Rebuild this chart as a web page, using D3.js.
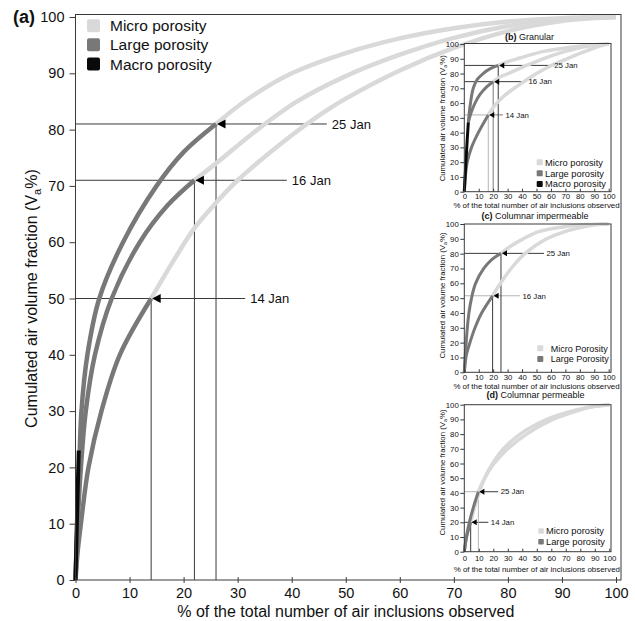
<!DOCTYPE html>
<html>
<head>
<meta charset="utf-8">
<script src="https://cdn.jsdelivr.net/npm/d3@7"></script>
<style>
  html, body { margin: 0; padding: 0; background: #fff; }
  svg { display: block; }
  text { font-family: "Liberation Sans", Arial, Helvetica, sans-serif; fill: #111; }
</style>
</head>
<body>
<svg id="fig" width="635" height="621"></svg>
<script>
// ---- shared tick values and legend entries ----
const tickValues = [0, 10, 20, 30, 40, 50, 60, 70, 80, 90, 100];
const legendAll = ["Micro porosity", "Large porosity", "Macro porosity"];
const legendTwo = ["Micro porosity", "Large porosity"];
const legendTwoCaps = ["Micro Porosity", "Large Porosity"];

// ---- (a) all ice: [% of inclusions, cumulated Va %] ----
const aMacro   = [[0, 0], [0.3, 12], [0.6, 23]];
const aLarge14 = [[0, 0], [0.4, 5], [1, 10], [2.4, 20], [4.8, 30], [8.2, 40], [14, 50]];
const aLarge16 = [[0, 0], [0.5, 12], [1.0, 20], [1.9, 30], [3.6, 40], [6.7, 50], [11.9, 60], [17, 66.5], [22, 71]];
const aLarge25 = [[0, 0], [0.4, 12], [0.7, 20], [1.1, 30], [2.2, 40], [4.4, 50], [8.8, 60], [15, 70], [20, 76], [26, 81]];
const aMicro14 = [[14, 50], [18, 56.5], [22, 62.5], [26, 67], [30, 71], [40, 79], [45, 82.5], [50, 85.5], [60, 90.5], [70, 94.5], [80, 97.5], [90, 99.3], [100, 100]];
const aMicro16 = [[22, 71], [26, 74], [33, 79.5], [41, 85], [50, 89.5], [60, 93.3], [70, 96.3], [80, 98.4], [90, 99.6], [100, 100]];
const aMicro25 = [[26, 81], [31.7, 85.3], [40, 90], [50, 93.6], [60, 96.2], [70, 98], [80, 99.2], [90, 99.8], [100, 100]];
const aDates = ["14 Jan", "16 Jan", "25 Jan"];
const aMarkX = [14, 22, 26];
const aMarkY = [50, 71, 81];

// ---- (b) granular ----
const bMacro   = [[0, 0], [1, 18], [2, 35], [2.8, 47]];
const bLarge14 = [[0, 0], [0.7, 10], [2, 20], [5, 30], [9.7, 40], [16.6, 52]];
const bLarge16 = [[2.8, 47], [4.5, 53], [7.4, 60], [11, 66], [15.5, 71], [20, 74.5]];
const bLarge25 = [[2.8, 47], [4, 58], [6.2, 70], [9, 76], [13, 80], [18, 83.3], [23.5, 85.5]];
const bMicro14 = [[16.6, 52], [20, 57], [24, 61.5], [29, 66], [36, 71], [50, 80], [60, 85.3], [71, 90], [85, 95.5], [95, 99], [100, 100]];
const bMicro16 = [[20, 74.5], [25, 77.8], [31.6, 80.5], [42, 85], [54.5, 90], [70, 95], [85, 98.5], [100, 100]];
const bMicro25 = [[23.5, 85.5], [30, 88], [38.5, 90.5], [55, 95], [75, 98], [90, 99.5], [100, 100]];
const bDates = ["14 Jan", "16 Jan", "25 Jan"];
const bMarkX = [16.6, 20, 23.5];
const bMarkY = [52, 74.5, 85.5];

// ---- (c) columnar impermeable ----
const cLarge16 = [[0, 0], [0.6, 6], [1.5, 12], [3.9, 20], [7.4, 30], [12, 40], [19.6, 51.6]];
const cLarge25 = [[0, 0], [0.6, 10], [1.3, 20], [2.1, 30], [3.2, 40], [5, 50], [7.8, 60], [13.5, 70], [19, 76], [25.4, 80.2]];
const cMicro16 = [[19.6, 51.6], [24.7, 59.5], [31.6, 69], [40.8, 79], [57, 90], [70, 95], [82, 98], [92, 99.6], [100, 100]];
const cMicro25 = [[25.4, 80.2], [32, 85], [40.8, 90], [52, 95], [68, 98], [85, 99.6], [100, 100]];
const cDates = ["16 Jan", "25 Jan"];
const cMarkX = [19.6, 25.4];
const cMarkY = [51.6, 80.2];

// ---- (d) columnar permeable ----
const dLarge14 = [[0, 0], [1.2, 8], [2.6, 14], [4.4, 20]];
const dLarge25 = [[0, 0], [1.4, 10], [3.5, 20], [6.2, 30], [9.7, 40.8]];
const dMicro14 = [[4.4, 20], [7, 30], [10.2, 40], [14, 50], [19.5, 60], [27, 70], [38.5, 80], [57, 90], [72, 95], [86, 98.3], [100, 100]];
const dMicro25 = [[9.7, 40.8], [13, 48], [17, 55], [21, 60.5], [30, 70], [43, 80], [61, 90], [75, 95], [88, 98.5], [100, 100]];
const dDates = ["14 Jan", "25 Jan"];
const dMarkX = [4.4, 9.7];
const dMarkY = [20, 40.8];

// ---- colours ----
const MICRO = "#d9d9d9", LARGE = "#787878", MACRO = "#0a0a0a";
const DARK = "#3a3a3a", MID = "#7a7a7a", LIGHT = "#b4b4b4";

const svg = d3.select("#fig");

function drawPanel(p) {
  const g = svg.append("g");
  const x = d3.scaleLinear().domain([0, 100]).range([p.x0, p.x1]);
  const y = d3.scaleLinear().domain([0, 100]).range([p.y0, p.y1]);
  const [fl, ft, fr, fb] = p.frame;

  if (p.fill) {
    g.append("rect").attr("x", fl).attr("y", ft).attr("width", fr - fl).attr("height", fb - ft)
      .attr("fill", "#fff");
  }

  // guide lines: horizontal from the axis, vertical drop, and the arrow lead to the date
  p.dates.forEach((d, i) => {
    const mx = p.markX[i], my = p.markY[i], col = p.lineColors[i];
    g.append("line").attr("x1", x(0)).attr("x2", x(mx)).attr("y1", y(my)).attr("y2", y(my))
      .attr("stroke", col[0]).attr("stroke-width", p.guideW);
    g.append("line").attr("x1", x(mx)).attr("x2", x(mx)).attr("y1", y(0)).attr("y2", y(my))
      .attr("stroke", col[1]).attr("stroke-width", p.guideW);
    g.append("line").attr("x1", x(mx) + 1).attr("x2", x(p.labelEnd[i])).attr("y1", y(my)).attr("y2", y(my))
      .attr("stroke", col[2]).attr("stroke-width", p.guideW);
  });

  // cumulative curves
  const line = d3.line().x(d => x(d[0])).y(d => y(d[1])).curve(d3.curveCatmullRom.alpha(0.5));
  const drawSet = (sets, color, w) => sets.forEach(s => {
    g.append("path").attr("d", line(s)).attr("fill", "none").attr("stroke", color)
      .attr("stroke-width", w).attr("stroke-linejoin", "round");
  });
  drawSet(p.micro, MICRO, p.microW);
  drawSet(p.large, LARGE, p.largeW);
  drawSet(p.macro, MACRO, p.macroW);

  // arrow heads and date labels
  p.dates.forEach((d, i) => {
    const tx = x(p.markX[i]) + 1, ty = y(p.markY[i]);
    g.append("path")
      .attr("d", `M${tx},${ty}L${tx + p.tri.w},${ty - p.tri.h / 2}L${tx + p.tri.w},${ty + p.tri.h / 2}Z`)
      .attr("fill", "#000");
    g.append("text").attr("x", x(p.labelEnd[i]) + p.dateGap).attr("y", ty + p.dateFont * 0.35)
      .attr("font-size", p.dateFont).text(d);
  });

  // axes
  const ya = g.append("g").attr("transform", `translate(${p.x0},0)`)
    .call(d3.axisLeft(y).tickValues(tickValues).tickSizeInner(p.yTick).tickSizeOuter(0).tickPadding(p.yPad));
  const xa = g.append("g").attr("transform", `translate(0,${p.y0})`)
    .call(d3.axisBottom(x).tickValues(tickValues).tickSizeInner(3).tickSizeOuter(0));
  [ya, xa].forEach(a => {
    a.select(".domain").remove();
    a.attr("font-family", null).attr("font-size", null);
    a.selectAll(".tick line").attr("stroke", DARK).attr("stroke-width", 1);
    a.selectAll(".tick text").attr("font-size", p.tickFont).attr("fill", "#111");
  });
  xa.selectAll(".tick line").attr("y1", -p.xTickUp).attr("y2", p.xTickDown);
  xa.selectAll(".tick text").attr("y", p.xLabelBase).attr("dy", null);

  // frame
  g.append("rect").attr("x", fl).attr("y", ft).attr("width", fr - fl).attr("height", fb - ft)
    .attr("fill", "none").attr("stroke", DARK).attr("stroke-width", 1);

  // axis titles
  g.append("text").attr("x", (p.x0 + p.x1) / 2).attr("y", p.xTitle.y).attr("text-anchor", "middle")
    .attr("font-size", p.xTitle.size).text("% of the total number of air inclusions observed");
  const yt = g.append("text").attr("transform", `translate(${p.yTitle.x},${p.yTitle.y}) rotate(-90)`)
    .attr("text-anchor", "middle").attr("font-size", p.yTitle.size);
  const fs = p.yTitle.size;
  yt.append("tspan").text("Cumulated air volume fraction (V");
  yt.append("tspan").attr("font-size", fs * 0.7).attr("dy", fs * 0.28).text("a");
  yt.append("tspan").attr("dy", -fs * 0.28).text("%)");

  // panel title
  const tt = g.append("text").attr("x", p.title.x).attr("y", p.title.y).attr("font-size", p.title.size)
    .attr("text-anchor", p.title.anchor);
  tt.append("tspan").attr("font-weight", "bold").text(p.title.tag);
  if (p.title.name) tt.append("tspan").text(p.title.name);

  // legend
  const L = p.legend;
  L.labels.forEach((lab, i) => {
    g.append("rect").attr("x", L.x).attr("y", L.y[i] - L.size / 2).attr("width", L.size).attr("height", L.size)
      .attr("rx", L.size * 0.15).attr("fill", L.colors[i]);
    g.append("text").attr("x", L.tx).attr("y", L.y[i] + L.font * 0.36).attr("font-size", L.font).text(lab);
  });
}

const insetCommon = {
  fill: true, guideW: 1, microW: 3.5, largeW: 3, macroW: 3,
  tri: { w: 5, h: 6 }, dateFont: 7.8, dateGap: 2.5,
  tickFont: 7.8, yTick: 4, yPad: 1.5, xTickUp: 3, xTickDown: 0
};

const panels = [
  {
    x0: 75.5, x1: 616, y0: 580, y1: 17, frame: [75.5, 14.5, 621, 580], fill: false,
    guideW: 1, microW: 4.5, largeW: 4.5, macroW: 4,
    micro: [aMicro14, aMicro16, aMicro25], large: [aLarge14, aLarge16, aLarge25], macro: [aMacro],
    dates: aDates, markX: aMarkX, markY: aMarkY, labelEnd: [31.4, 39.1, 46.5],
    lineColors: [[DARK, DARK, DARK], [DARK, DARK, DARK], [DARK, DARK, DARK]],
    tri: { w: 8.5, h: 9 }, dateFont: 13, dateGap: 5,
    tickFont: 14.5, yTick: 6, yPad: 5, xTickUp: 3, xTickDown: 3, xLabelBase: 17.5,
    xTitle: { y: 616.5, size: 16 }, yTitle: { x: 37, y: 298.5, size: 16 },
    title: { tag: "(a)", name: "", x: 13, y: 23, size: 18, anchor: "start" },
    legend: { labels: legendAll, colors: [MICRO, LARGE, MACRO], x: 87, y: [25.8, 44.7, 64], size: 13, tx: 110, font: 15.5 }
  },
  Object.assign({}, insetCommon, {
    x0: 464.3, x1: 608.7, y0: 191.7, y1: 44, frame: [464.3, 43.5, 611, 191.7],
    micro: [bMicro14, bMicro16, bMicro25], large: [bLarge14, bLarge16, bLarge25], macro: [bMacro],
    dates: bDates, markX: bMarkX, markY: bMarkY, labelEnd: [26.8, 42.7, 60.5],
    lineColors: [[LIGHT, LIGHT, MID], [DARK, MID, DARK], [DARK, DARK, DARK]],
    xLabelBase: 7.6, xTitle: { y: 208, size: 7.9 }, yTitle: { x: 445, y: 118.3, size: 7.8 },
    title: { tag: "(b)", name: " Granular", x: 529.5, y: 40, size: 9, anchor: "middle" },
    legend: { labels: legendAll, colors: [MICRO, LARGE, MACRO], x: 536.7, y: [162.3, 173.3, 184], size: 6, tx: 545, font: 9.3 }
  }),
  Object.assign({}, insetCommon, {
    x0: 464.3, x1: 608.7, y0: 372.3, y1: 224, frame: [464.3, 224, 611, 372.3],
    micro: [cMicro16, cMicro25], large: [cLarge16, cLarge25], macro: [],
    dates: cDates, markX: cMarkX, markY: cMarkY, labelEnd: [38.6, 55.2],
    lineColors: [[LIGHT, DARK, LIGHT], [DARK, DARK, DARK]],
    xLabelBase: 7.7, xTitle: { y: 389, size: 7.9 }, yTitle: { x: 445, y: 295.5, size: 7.8 },
    title: { tag: "(c)", name: " Columnar impermeable", x: 535, y: 219, size: 9, anchor: "middle" },
    legend: { labels: legendTwoCaps, colors: [MICRO, LARGE], x: 537.3, y: [348.3, 359], size: 6, tx: 550.7, font: 9 }
  }),
  Object.assign({}, insetCommon, {
    x0: 464.3, x1: 609.3, y0: 551.7, y1: 404.7, frame: [464.3, 404.7, 611, 551.7],
    micro: [dMicro14, dMicro25], large: [dLarge14, dLarge25], macro: [],
    dates: dDates, markX: dMarkX, markY: dMarkY, labelEnd: [16.6, 23.4],
    lineColors: [[DARK, DARK, DARK], [LIGHT, LIGHT, DARK]],
    xLabelBase: 9.8, xTitle: { y: 571.5, size: 7.9 }, yTitle: { x: 445, y: 472.5, size: 7.8 },
    title: { tag: "(d)", name: " Columnar permeable", x: 535.5, y: 397.5, size: 9, anchor: "middle" },
    legend: { labels: legendTwo, colors: [MICRO, LARGE], x: 538.3, y: [531, 541.7], size: 5.5, tx: 546, font: 9.3 }
  })
];

panels.forEach(drawPanel);
</script>
</body>
</html>
